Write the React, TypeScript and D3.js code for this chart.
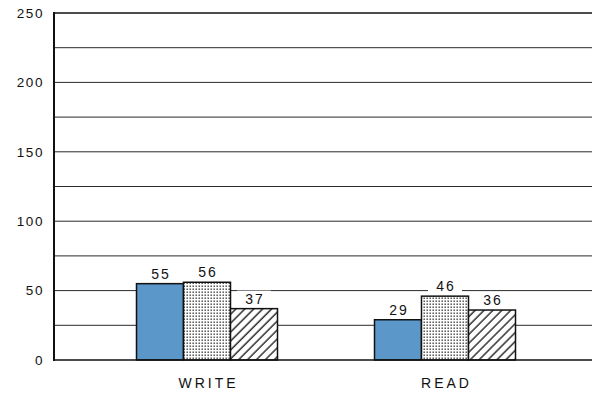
import React from "react";
import * as d3 from "d3";

const categories = ["WRITE", "READ"];
const seriesNames = ["solid", "dotted", "hatched"];
const solidValues = [55, 29];
const dottedValues = [56, 46];
const hatchedValues = [37, 36];
const yTicks = [0, 50, 100, 150, 200, 250];
const gridValues = [25, 50, 75, 100, 125, 150, 175, 200, 225];

const W = 592;
const H = 394;
const FONT = "'Liberation Sans', Arial, Helvetica, sans-serif";

export default function App() {
  const y = d3.scaleLinear().domain([0, 250]).range([360, 13]);
  const x = d3.scaleBand<string>().domain(categories).range([88, 564]);
  const inner = d3.scaleBand<string>().domain(seriesNames).range([0, 141]);
  const x0 = 54;
  const series = [
    { name: "solid", values: solidValues, fill: "#5b97c9" },
    { name: "dotted", values: dottedValues, fill: "url(#dots)" },
    { name: "hatched", values: hatchedValues, fill: "url(#hatch)" },
  ];

  return (
    <svg
      width={W}
      height={H}
      style={{ position: "absolute", left: 0, top: 0, background: "#fff" }}
    >
      <defs>
        <pattern id="dots" width={3} height={3} patternUnits="userSpaceOnUse">
          <rect width={3} height={3} fill="#fff" />
          <rect x={0.5} y={0.5} width={1.4} height={1.4} fill="#3a3a3a" />
        </pattern>
        <pattern
          id="hatch"
          width={6.3}
          height={6.3}
          patternUnits="userSpaceOnUse"
          patternTransform="rotate(45)"
        >
          <rect width={6.3} height={6.3} fill="#fff" />
          <line x1={1} y1={0} x2={1} y2={6.3} stroke="#222" strokeWidth={1.4} />
        </pattern>
      </defs>

      {gridValues.map((v) => (
        <line
          key={v}
          x1={x0}
          x2={W}
          y1={y(v)}
          y2={y(v)}
          stroke="#2a2a2a"
          strokeWidth={1}
        />
      ))}
      <line x1={x0} x2={W} y1={y(250)} y2={y(250)} stroke="#111" strokeWidth={1.6} />

      {yTicks.map((t) => (
        <text
          key={t}
          x={44}
          y={y(t)}
          dy="0.36em"
          textAnchor="end"
          fontFamily={FONT}
          fontSize={13.5}
          letterSpacing={1.6}
          fill="#111"
        >
          {t}
        </text>
      ))}

      {categories.map((c, ci) =>
        series.map((s) => {
          const bx = (x(c) as number) + x.bandwidth() / 2 - 70.5 + (inner(s.name) as number);
          const v = s.values[ci];
          const top = y(v);
          const cx = bx + inner.bandwidth() / 2;
          return (
            <g key={c + s.name}>
              <rect
                x={bx}
                y={top}
                width={inner.bandwidth()}
                height={y(0) - top}
                fill={s.fill}
                stroke="#111"
                strokeWidth={1.5}
              />
              <rect
                x={cx - 17}
                y={top - 18}
                width={34}
                height={14}
                fill="#fff"
              />
              <text
                x={cx + 1}
                y={top - 5}
                textAnchor="middle"
                fontFamily={FONT}
                fontSize={14}
                letterSpacing={2}
                fill="#111"
              >
                {v}
              </text>
            </g>
          );
        })
      )}

      <line x1={x0} x2={W} y1={y(0)} y2={y(0)} stroke="#111" strokeWidth={1.6} />
      <line x1={x0} x2={x0} y1={y(250) - 1} y2={y(0) + 1} stroke="#111" strokeWidth={2} />

      {categories.map((c) => (
        <text
          key={c}
          x={(x(c) as number) + x.bandwidth() / 2 + 1.5}
          y={388}
          textAnchor="middle"
          fontFamily={FONT}
          fontSize={14}
          letterSpacing={3}
          fill="#111"
        >
          {c}
        </text>
      ))}
    </svg>
  );
}
